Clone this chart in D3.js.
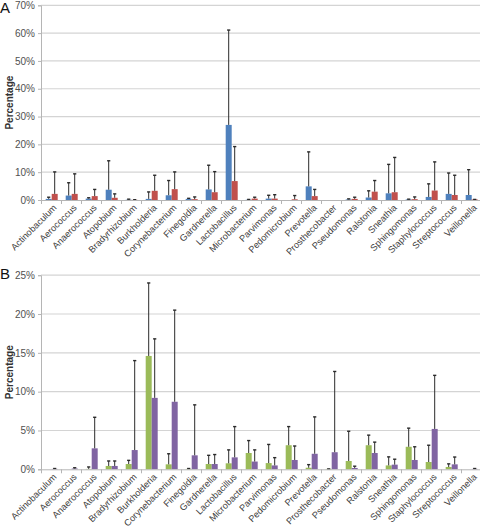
<!DOCTYPE html>
<html><head><meta charset="utf-8">
<script src="https://cdn.jsdelivr.net/npm/d3@7"></script>
<style>body{margin:0;background:#fff}svg{display:block}</style>
</head><body>
<svg id="c" width="480" height="529"></svg>
<script>
const genera = ["Actinobaculum","Aerococcus","Anaerococcus","Atopobium","Bradyrhizobium","Burkholderia","Corynebacterium","Finegoldia","Gardnerella","Lactobacillus","Microbacterium","Parvimonas","Pedomicrobium","Prevotella","Prosthecobacter","Pseudomonas","Ralstonia","Sneathia","Sphingomonas","Staphylococcus","Streptococcus","Veillonella"];

// Panel A (percent)
const aBlue    = [0.4,1.6,0.5,3.7,0.1,0.4,1.7,0.4,3.8,27.0,0.1,0.5,0,4.9,0,0.2,0.9,2.4,0.2,1.1,2.2,1.8];
const aBlueErr = [1.0,6.2,0.8,14.1,0.3,2.9,7.0,0.6,12.5,61.1,0.2,1.7,0,17.3,0,0.4,3.3,12.8,0.3,5.8,9.7,10.9];
const aRed     = [2.2,2.2,1.4,0.8,0.05,3.3,3.9,0.3,2.8,6.8,0.5,0.5,0.25,1.4,0,0.4,3.0,2.8,0.3,3.4,1.8,0.2];
const aRedErr  = [10.1,9.4,3.8,2.2,0.1,8.9,10.1,1.1,10.2,19.2,1.0,1.9,1.6,3.8,0,1.0,7.0,15.3,1.1,13.7,8.9,0.2];
const aTicks   = [0,10,20,30,40,50,60,70];

// Panel B (percent)
const bGreen    = [0,0,0.05,0.43,0.68,14.6,0.64,0.05,0.68,0.77,2.1,0.8,3.1,0.2,0.05,1.07,3.1,0.5,2.9,0.94,0.3,0];
const bGreenErr = [0,0,0.3,1.07,1.15,24.0,2.0,0.1,1.8,2.5,3.7,3.2,5.5,0.6,0.05,4.9,4.4,1.6,5.3,3.1,0.7,0];
const bPurple   = [0.05,0.1,2.7,0.43,2.48,9.2,8.7,1.8,0.68,1.54,1.0,0.5,1.2,2.0,2.2,0.17,2.1,0.6,1.2,5.2,0.64,0.05];
const bPurpleErr= [0.1,0.2,6.7,1.07,14.0,16.8,20.5,8.3,1.9,5.5,2.5,1.5,3.0,6.75,12.6,0.4,3.5,1.3,2.9,12.1,1.58,0.1];
const bTicks    = [0,5,10,15,20,25];

const svg = d3.select("#c");
const font = "Liberation Sans, Arial, sans-serif";

function panel(opt){
  const g = svg.append("g");
  const x = d3.scaleBand().domain(genera).range([41, 481]).paddingInner(0).paddingOuter(0);
  const sub = d3.scaleBand().domain([0,1]).range([4.7, 16.7]);
  const y = d3.scaleLinear().domain([0, opt.max]).range([opt.y0, opt.y1]);

  // gridlines
  g.append("g").selectAll("line").data(opt.ticks.filter(t=>t>0)).join("line")
    .attr("x1", 41).attr("x2", 480).attr("y1", d=>y(d)).attr("y2", d=>y(d))
    .attr("stroke", "#d4d4d4").attr("stroke-width", 1.2);

  // y axis
  const ya = d3.axisLeft(y).tickValues(opt.ticks).tickFormat(d=>d+"%").tickSize(3).tickPadding(3);
  const yg = g.append("g").attr("transform","translate(41,0)").call(ya);
  yg.select(".domain").attr("stroke","#b5b5b5");
  yg.selectAll(".tick line").attr("stroke","#b5b5b5");
  yg.selectAll("text").attr("font-family",font).attr("font-size","10px").attr("fill","#505050");

  // bars
  opt.series.forEach((s, si) => {
    const gg = g.append("g");
    gg.selectAll("rect").data(s.vals).join("rect")
      .attr("x", (d,i)=>x(genera[i]) + sub(si))
      .attr("width", sub.bandwidth())
      .attr("y", d=>y(d))
      .attr("height", d=>opt.y0 - y(d))
      .attr("fill", s.color);
    const eb = gg.append("g").attr("stroke","#2a2a2a").attr("stroke-width",1);
    s.err.forEach((e,i)=>{
      if (e <= 0) return;
      const cx = x(genera[i]) + sub(si) + sub.bandwidth()/2;
      eb.append("line").attr("x1",cx).attr("x2",cx).attr("y1",y(s.vals[i])).attr("y2",y(e));
      eb.append("line").attr("x1",cx-1.6).attr("x2",cx+1.6).attr("y1",y(e)).attr("y2",y(e)).attr("stroke-width",1.4);
    });
  });

  // x axis
  g.append("line").attr("x1",41).attr("x2",480).attr("y1",opt.y0+0.5).attr("y2",opt.y0+0.5).attr("stroke","#b5b5b5");
  g.append("g").selectAll("line").data(genera).join("line")
    .attr("x1", d=>x(d)+0.5).attr("x2", d=>x(d)+0.5).attr("y1", opt.y0).attr("y2", opt.y0+4)
    .attr("stroke","#b5b5b5");
  g.append("g").selectAll("text").data(genera).join("text")
    .attr("transform", d=>`translate(${x(d)+x.bandwidth()/2+4},${opt.y0+6}) rotate(-45)`)
    .attr("text-anchor","end").attr("dy","0.35em")
    .attr("font-family",font).attr("font-size","9.2px").attr("fill","#404040")
    .text(d=>d);

  // y title
  g.append("text").attr("transform",`translate(13,${(opt.y0+opt.y1)/2}) rotate(-90)`)
    .attr("text-anchor","middle").attr("font-family",font).attr("font-weight","bold")
    .attr("font-size","10px").attr("fill","#333").text("Percentage");

  // panel letter
  g.append("text").attr("x",0).attr("y",opt.letterY).attr("font-family",font)
    .attr("font-size","15px").attr("fill","#111").text(opt.letter);
}

panel({max:70, y0:200, y1:5.3, ticks:aTicks, letter:"A", letterY:13,
  series:[{vals:aBlue, err:aBlueErr, color:"#4F81BD"},{vals:aRed, err:aRedErr, color:"#C0504D"}]});
panel({max:25, y0:469.3, y1:275.2, ticks:bTicks, letter:"B", letterY:279,
  series:[{vals:bGreen, err:bGreenErr, color:"#9BBB59"},{vals:bPurple, err:bPurpleErr, color:"#8064A2"}]});
</script>
</body></html>
